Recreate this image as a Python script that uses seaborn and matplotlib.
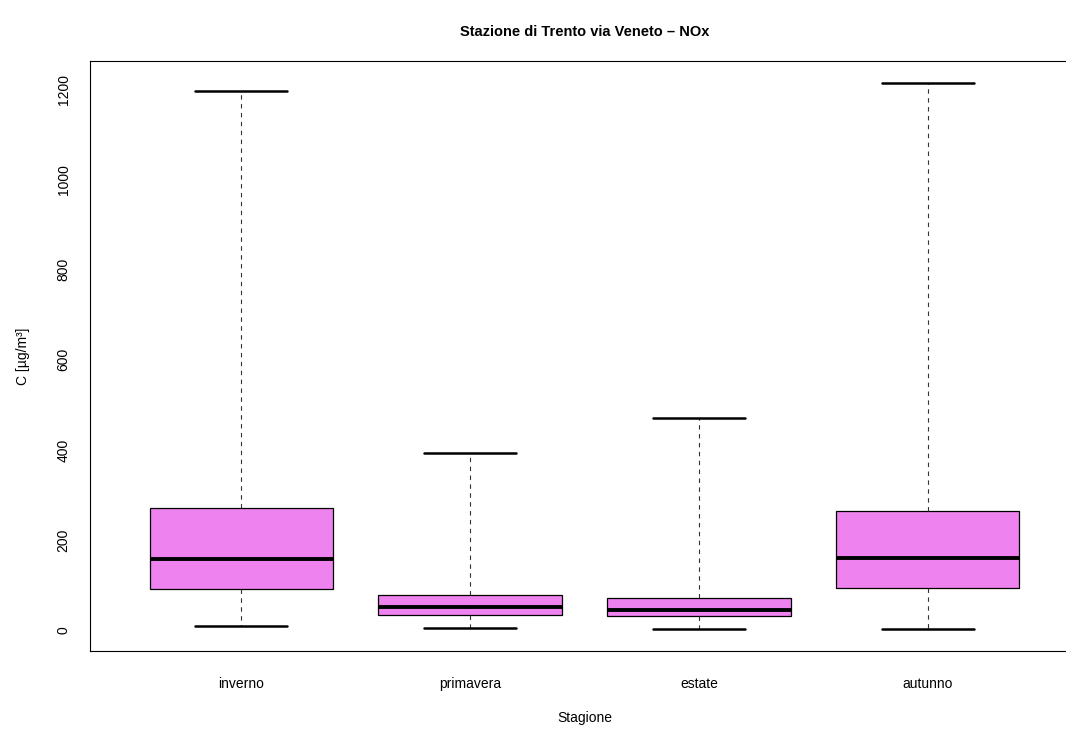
import seaborn as sns
import matplotlib.pyplot as plt
import pandas as pd

# stagioni e statistiche (min, Q1, mediana, Q3, max)
stagioni = ["inverno", "primavera", "estate", "autunno"]
inverno = [9, 90.5, 158, 271, 1198]
primavera = [5, 33, 50.5, 77, 394]
estate = [2, 30.5, 45, 70.5, 470]
autunno = [3, 94, 159.6, 264, 1215]
y_ticks = [0, 200, 400, 600, 800, 1000, 1200]

valori = [inverno, primavera, estate, autunno]
df = pd.DataFrame({
    "Stagione": [s for s, v in zip(stagioni, valori) for _ in v],
    "C": [x for v in valori for x in v],
})

sns.set_style("white")
plt.rcParams["font.family"] = ["Liberation Sans", "DejaVu Sans"]
plt.rcParams["text.color"] = "black"
plt.rcParams["axes.labelcolor"] = "black"

fig = plt.figure(figsize=(10.66, 7.31), dpi=100)
ax = fig.add_axes([90 / 1066, 80 / 731, 989 / 1066, 590 / 731])

sns.boxplot(data=df, x="Stagione", y="C", order=stagioni, ax=ax,
            color="violet", saturation=1, width=0.8, whis=(0, 100),
            linecolor="black", linewidth=0.9, showfliers=False,
            whiskerprops={"linestyle": (0, (4, 4)), "linewidth": 0.8,
                          "color": "#333333"},
            capprops={"linewidth": 1.8},
            medianprops={"linewidth": 2.8})

ax.set_xlim(-0.66, 3.66)
ax.set_ylim(-46.5, 1263.5)
ax.set_yticks(y_ticks)
ax.set_yticklabels([str(t) for t in y_ticks], rotation=90, va="center")
ax.tick_params(axis="both", direction="out", length=5, width=0.8,
               labelsize=10, colors="black")
ax.tick_params(axis="x", pad=14)
ax.tick_params(axis="y", pad=9)

for sp in ax.spines.values():
    sp.set_visible(True)
    sp.set_color("black")
    sp.set_linewidth(0.8)

ax.set_xlabel("Stagione", fontsize=10, labelpad=14, color="black")
ax.set_ylabel("C [µg/m³]", fontsize=10, labelpad=19, color="black")
ax.set_title("Stazione di Trento via Veneto – NOx", fontsize=10.5,
             fontweight="bold", pad=18, color="black")

fig.savefig("out.png", dpi=100)
